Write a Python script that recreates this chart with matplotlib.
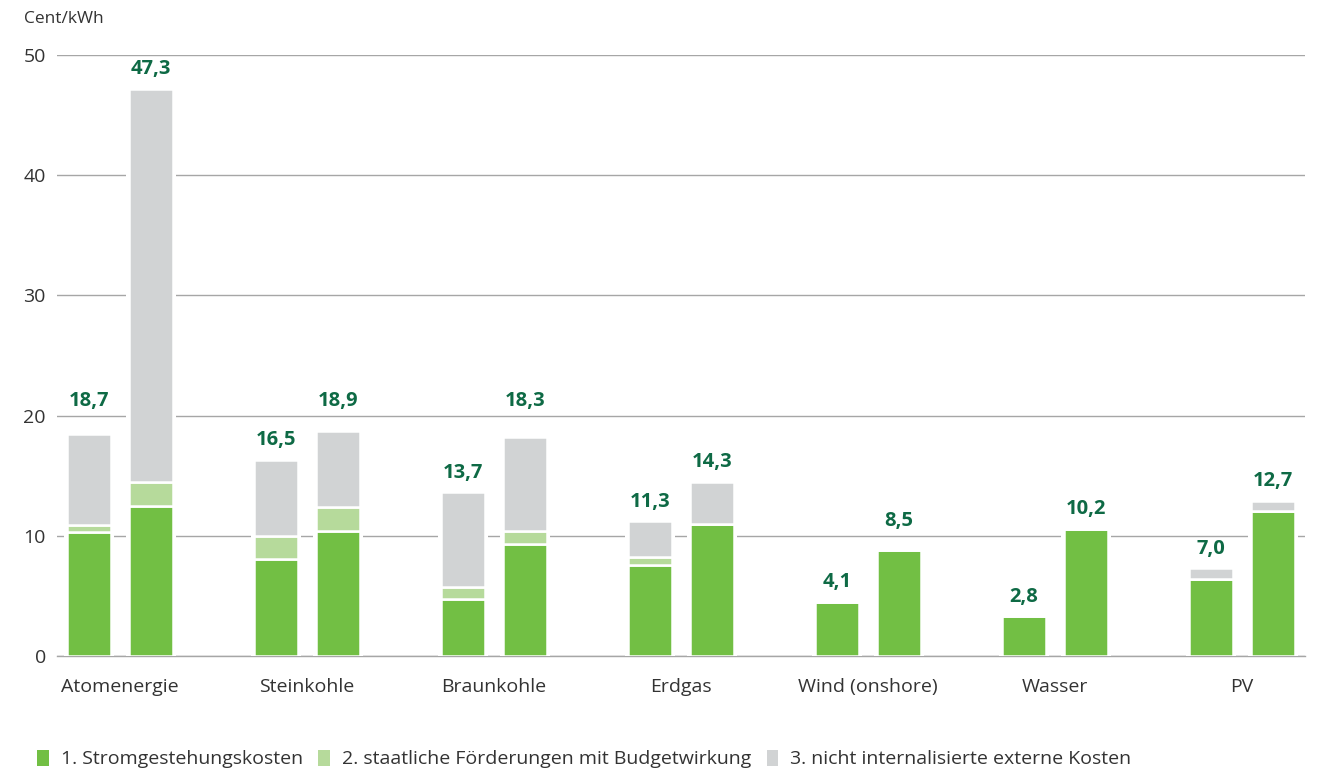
import math

import matplotlib
matplotlib.use("Agg")
from matplotlib import pyplot as plt
from matplotlib.patches import Patch

plt.rcParams['font.family'] = ['Open Sans', 'DejaVu Sans']

categories = ["Atomenergie", "Steinkohle", "Braunkohle", "Erdgas",
              "Wind (onshore)", "Wasser", "PV"]

# left bar of each pair
left_strom = [10.3, 8.1, 4.7, 7.6, 4.5, 3.3, 6.4]
left_foerd = [0.6, 1.9, 1.0, 0.6, 0.0, 0.0, 0.0]
left_extern = [7.6, 6.3, 7.9, 3.0, 0.0, 0.0, 0.9]
left_labels = ["18,7", "16,5", "13,7", "11,3", "4,1", "2,8", "7,0"]

# right bar of each pair
right_strom = [12.5, 10.4, 9.3, 11.0, 8.8, 10.6, 12.1]
right_foerd = [2.0, 2.0, 1.1, 0.0, 0.0, 0.0, 0.0]
right_extern = [32.7, 6.3, 7.8, 3.5, 0.0, 0.0, 0.8]
right_labels = ["47,3", "18,9", "18,3", "14,3", "8,5", "10,2", "12,7"]

legend_labels = ["1. Stromgestehungskosten",
                 "2. staatliche Förderungen mit Budgetwirkung",
                 "3. nicht internalisierte externe Kosten"]

GREEN = "#72bf44"
LIGHT = "#b6da9b"
GREY = "#d1d3d4"
LABEL_GREEN = "#0e6a45"
TEXT = "#333333"
GRID = "#a6a6a6"

fig = plt.figure(figsize=(13.26, 7.72), dpi=100)
ax = fig.add_axes([0.043, 0.1503, 0.941, 0.7785])

x = list(range(len(categories)))
offset = 0.166
width = 0.232


def draw_stack(xs, strom, foerd, extern, labels):
    b1 = [s + f for s, f in zip(strom, foerd)]
    totals = [a + e for a, e in zip(b1, extern)]
    # white halo so the gridlines stop short of the bars
    ax.bar(xs, totals, width=width + 0.035, color="white", zorder=2)
    ax.bar(xs, strom, width=width, color=GREEN, edgecolor="white",
           linewidth=1.8, zorder=3)
    ax.bar(xs, foerd, bottom=strom, width=width, color=LIGHT,
           edgecolor="white", linewidth=1.8, zorder=3)
    ax.bar(xs, extern, bottom=b1, width=width, color=GREY,
           edgecolor="white", linewidth=1.8, zorder=3)
    for xi, t, lab in zip(xs, totals, labels):
        y = t + 0.8
        # move label above a gridline instead of crossing it
        if math.floor(y / 10) != math.floor((y + 1.2) / 10):
            y = math.ceil(y / 10) * 10 + 0.4
        ax.text(xi, y, lab, ha="center", va="bottom", fontsize=14.5,
                fontweight="bold", color=LABEL_GREEN, zorder=4)


draw_stack([i - offset for i in x], left_strom, left_foerd, left_extern, left_labels)
draw_stack([i + offset for i in x], right_strom, right_foerd, right_extern, right_labels)

ax.set_ylim(0, 50)
ax.set_xlim(-0.336, len(categories) - 1 + 0.336)
ax.set_yticks(range(0, 51, 10))
ax.yaxis.grid(True, color=GRID, linewidth=1.0, zorder=1)
ax.axhline(0, color=GRID, linewidth=1.0, zorder=1, clip_on=False)
ax.set_axisbelow(True)
for s in ax.spines.values():
    s.set_visible(False)
ax.tick_params(axis="y", length=0, pad=8, labelsize=14, labelcolor=TEXT)
ax.set_xticks(x)
ax.set_xticklabels(categories)
ax.tick_params(axis="x", length=0, pad=16, labelsize=14, labelcolor=TEXT)

fig.text(0.018, 0.975, "Cent/kWh", fontsize=12.5, color=TEXT, va="center")

handles = [Patch(facecolor=c) for c in (GREEN, LIGHT, GREY)]
fig.legend(handles, legend_labels, loc="lower left", bbox_to_anchor=(0.015, -0.018),
           ncol=3, frameon=False, fontsize=14, handlelength=0.6, handleheight=0.9,
           handletextpad=0.6, columnspacing=0.8, labelcolor=TEXT)

fig.savefig("out.png", dpi=100)
